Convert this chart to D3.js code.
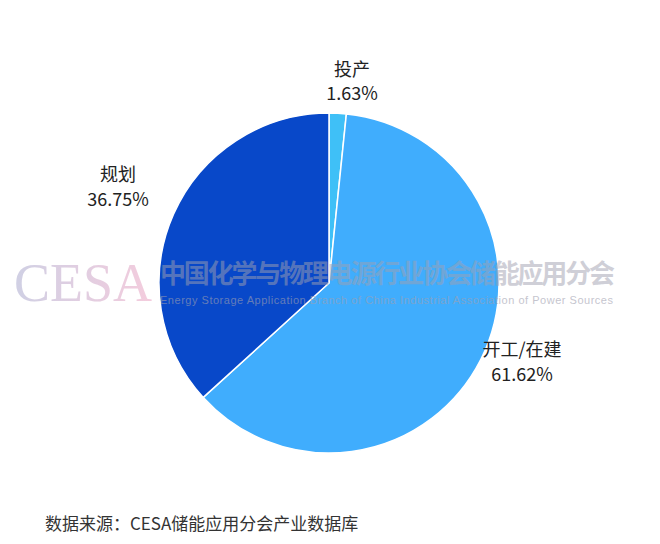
<!DOCTYPE html>
<html><head><meta charset="utf-8">
<script src="https://cdn.jsdelivr.net/npm/d3@7"></script>
<style>body{margin:0;background:#fff}</style></head>
<body><svg id="c" width="660" height="544"></svg>
<script>
const categories = ["投产", "开工/在建", "规划"];
const values = [1.63, 61.62, 36.75];
const colors = ["#3fc0f7", "#40adfd", "#0848c9"];
const labelPos = [[352, 76, 100], [522, 356, 381], [118, 181, 206]];

const svg = d3.select("#c");
const cx = 329, cy = 283, r = 170;
const pie = d3.pie().sort(null).value(d => d)(values);
const arc = d3.arc().innerRadius(0).outerRadius(r);
const g = svg.append("g").attr("transform", `translate(${cx},${cy})`);
g.selectAll("path").data(pie).join("path")
  .attr("d", arc).attr("fill", (d, i) => colors[i])
  .attr("stroke", "#fff").attr("stroke-width", 1.5);

const font = "'Noto Sans CJK SC','Noto Sans',sans-serif";
categories.forEach((c, i) => {
  const [x, y1, y2] = labelPos[i];
  svg.append("text").attr("x", x).attr("y", y1).attr("text-anchor", "middle")
    .attr("font-family", font).attr("font-size", 18).attr("fill", "#222").text(c);
  svg.append("text").attr("x", x).attr("y", y2).attr("text-anchor", "middle")
    .attr("font-family", font).attr("font-size", 18).attr("fill", "#222").text(values[i].toFixed(2) + "%");
});

// watermark
const defs = svg.append("defs");
const lg = defs.append("linearGradient").attr("id", "wm");
lg.append("stop").attr("offset", "0%").attr("stop-color", "#c8c8e0");
lg.append("stop").attr("offset", "100%").attr("stop-color", "#f2c4d8");
svg.append("text").attr("x", 14).attr("y", 301).attr("font-family", "'Liberation Serif',serif")
  .attr("font-size", 54).attr("fill", "url(#wm)").attr("opacity", 0.85).text("CESA");
svg.append("text").attr("x", 160).attr("y", 283).attr("font-family", font)
  .attr("font-size", 26).attr("font-weight", "bold").attr("fill", "#a0a0b0").attr("opacity", 0.5).attr("textLength", 455)
  .text("中国化学与物理电源行业协会储能应用分会");
svg.append("text").attr("x", 160).attr("y", 304).attr("font-family", "'Liberation Sans',sans-serif")
  .attr("font-size", 11).attr("fill", "#a0a0b0").attr("opacity", 0.6).attr("textLength", 453)
  .text("Energy Storage Application Branch of China Industrial Association of Power Sources");

svg.append("text").attr("x", 45).attr("y", 530).attr("font-family", font)
  .attr("font-size", 17).attr("fill", "#333").text("数据来源：CESA储能应用分会产业数据库");
</script></body></html>
